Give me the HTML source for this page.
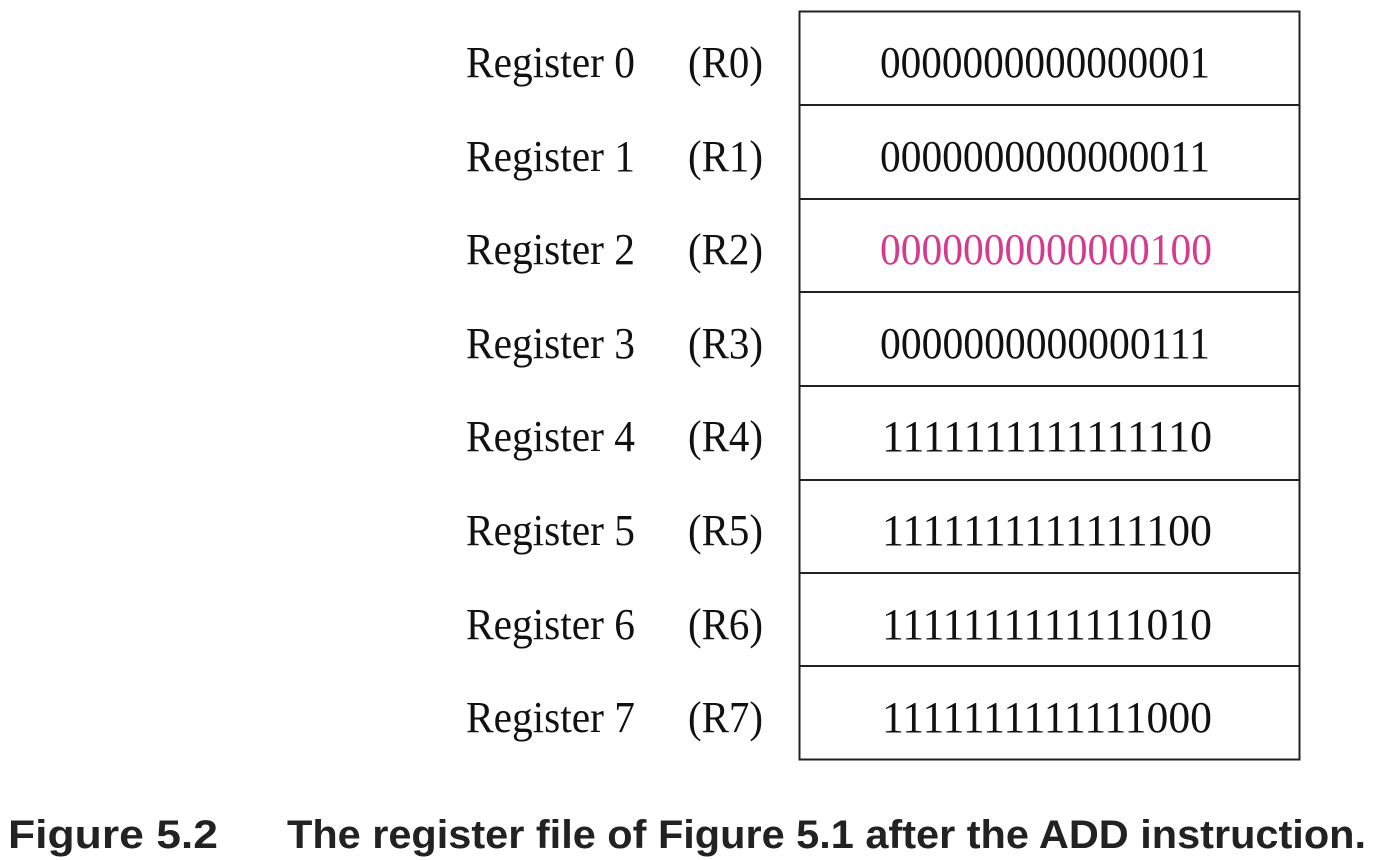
<!DOCTYPE html>
<html><head><meta charset="utf-8"><style>
html,body{margin:0;padding:0;background:#fff;width:1374px;height:860px;overflow:hidden}
</style></head><body>
<svg width="1374" height="860" xmlns="http://www.w3.org/2000/svg">
<g fill="none" stroke="#222" stroke-width="2">
<rect x="799.5" y="11.5" width="500" height="748"/>
<line x1="799" y1="105" x2="1300" y2="105"/>
<line x1="799" y1="199" x2="1300" y2="199"/>
<line x1="799" y1="292" x2="1300" y2="292"/>
<line x1="799" y1="386" x2="1300" y2="386"/>
<line x1="799" y1="480" x2="1300" y2="480"/>
<line x1="799" y1="573" x2="1300" y2="573"/>
<line x1="799" y1="666" x2="1300" y2="666"/>
</g>
<g font-family="Liberation Serif, serif" font-size="44" fill="#111">
<text x="466" y="77" textLength="169" lengthAdjust="spacingAndGlyphs">Register 0</text>
<text x="688" y="77" textLength="75" lengthAdjust="spacingAndGlyphs">(R0)</text>
<text x="880" y="77" textLength="330" lengthAdjust="spacingAndGlyphs">0000000000000001</text>
<text x="466" y="171" textLength="169" lengthAdjust="spacingAndGlyphs">Register 1</text>
<text x="688" y="171" textLength="75" lengthAdjust="spacingAndGlyphs">(R1)</text>
<text x="880" y="171" textLength="330" lengthAdjust="spacingAndGlyphs">0000000000000011</text>
<text x="466" y="264" textLength="169" lengthAdjust="spacingAndGlyphs">Register 2</text>
<text x="688" y="264" textLength="75" lengthAdjust="spacingAndGlyphs">(R2)</text>
<text x="880" y="264" textLength="332" lengthAdjust="spacingAndGlyphs" fill="#d63a8f">0000000000000100</text>
<text x="466" y="358" textLength="169" lengthAdjust="spacingAndGlyphs">Register 3</text>
<text x="688" y="358" textLength="75" lengthAdjust="spacingAndGlyphs">(R3)</text>
<text x="880" y="358" textLength="330" lengthAdjust="spacingAndGlyphs">0000000000000111</text>
<text x="466" y="451" textLength="169" lengthAdjust="spacingAndGlyphs">Register 4</text>
<text x="688" y="451" textLength="75" lengthAdjust="spacingAndGlyphs">(R4)</text>
<text x="882" y="451" textLength="330" lengthAdjust="spacingAndGlyphs">1111111111111110</text>
<text x="466" y="545" textLength="169" lengthAdjust="spacingAndGlyphs">Register 5</text>
<text x="688" y="545" textLength="75" lengthAdjust="spacingAndGlyphs">(R5)</text>
<text x="882" y="545" textLength="330" lengthAdjust="spacingAndGlyphs">1111111111111100</text>
<text x="466" y="639" textLength="169" lengthAdjust="spacingAndGlyphs">Register 6</text>
<text x="688" y="639" textLength="75" lengthAdjust="spacingAndGlyphs">(R6)</text>
<text x="882" y="639" textLength="330" lengthAdjust="spacingAndGlyphs">1111111111111010</text>
<text x="466" y="732" textLength="169" lengthAdjust="spacingAndGlyphs">Register 7</text>
<text x="688" y="732" textLength="75" lengthAdjust="spacingAndGlyphs">(R7)</text>
<text x="882" y="732" textLength="330" lengthAdjust="spacingAndGlyphs">1111111111111000</text>
</g>
<g font-family="Liberation Sans, sans-serif" font-weight="bold" font-size="40" fill="#222">
<text x="8" y="848" textLength="210" lengthAdjust="spacingAndGlyphs">Figure 5.2</text>
<text x="287" y="848" textLength="1079" lengthAdjust="spacingAndGlyphs">The register file of Figure 5.1 after the ADD instruction.</text>
</g>
</svg>
</body></html>
